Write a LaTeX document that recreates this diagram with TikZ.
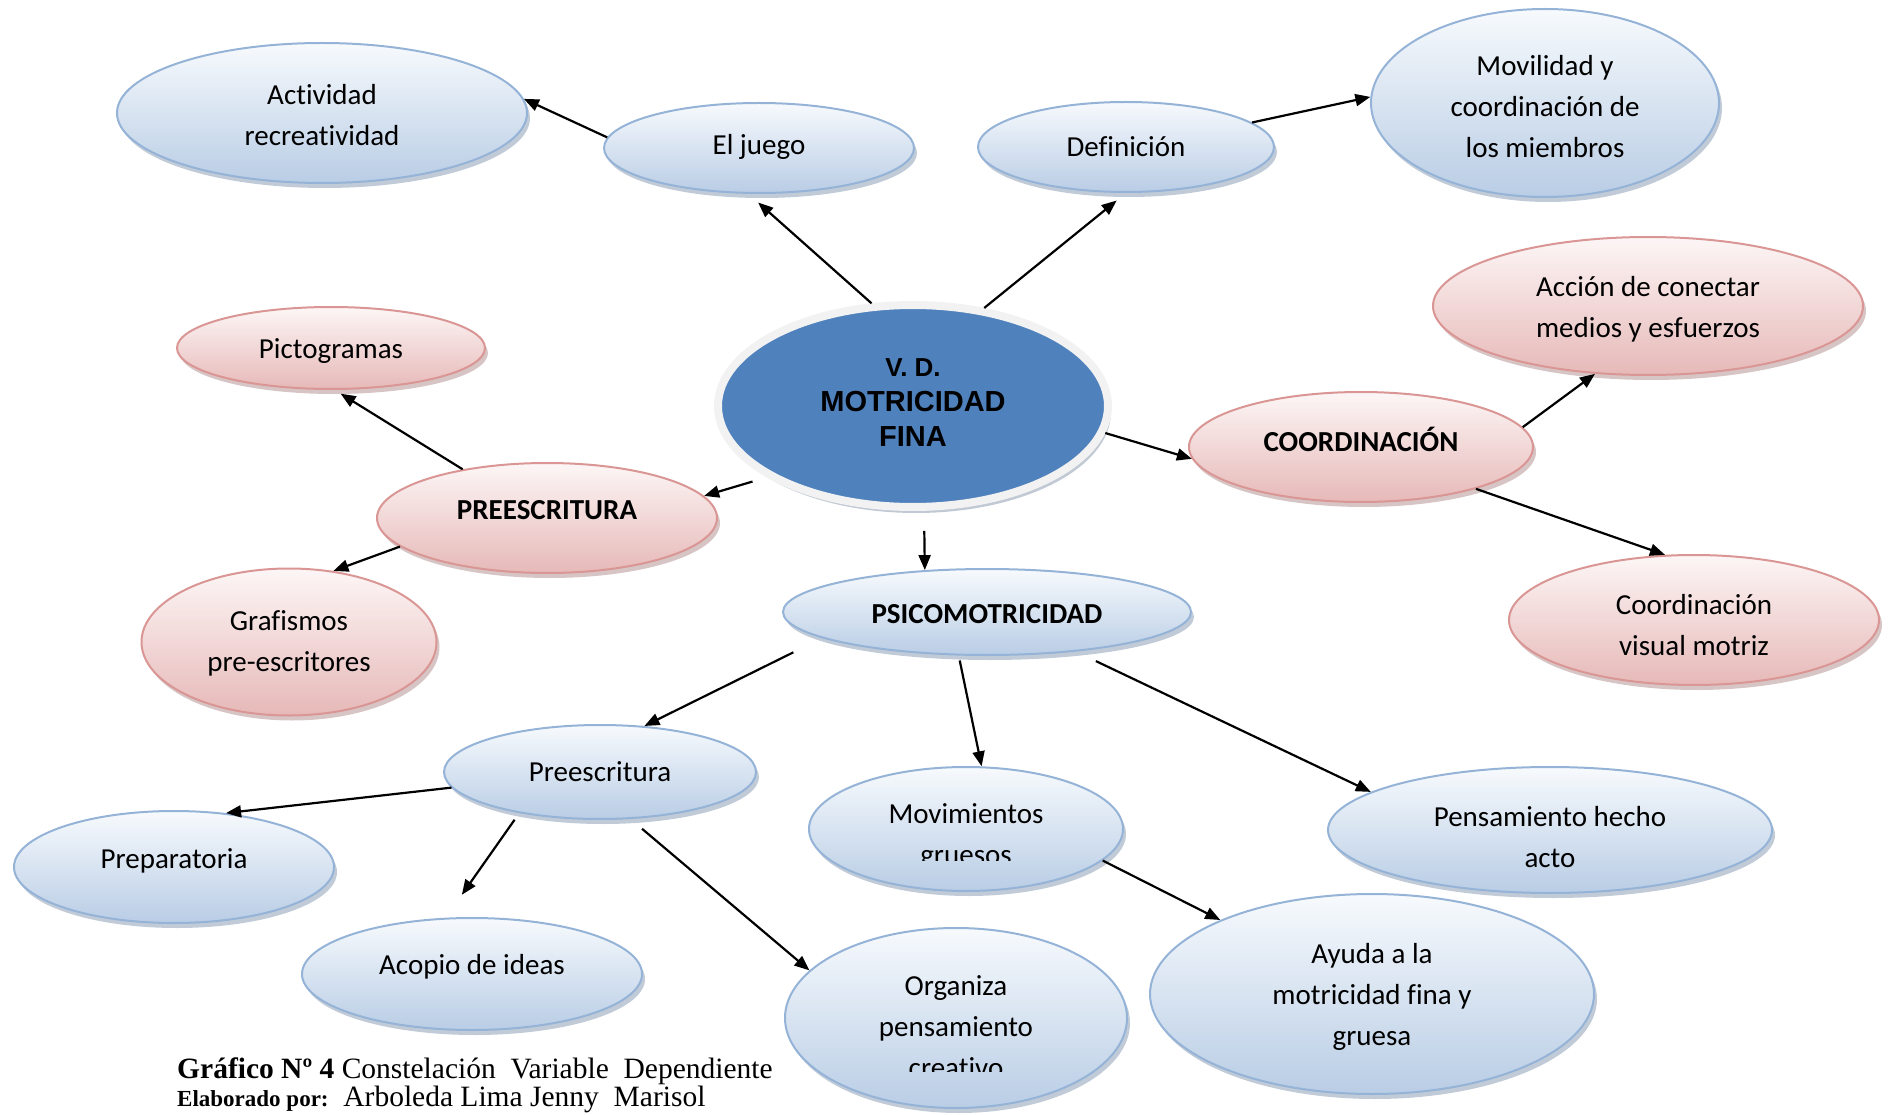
\documentclass[tikz,border=0pt]{standalone}
\usepackage{fontspec}
\setmainfont{Carlito}[Ligatures=NoCommon]
\newfontfamily\arialfont{Liberation Sans}
\newfontfamily\capserif{Liberation Serif}
\usetikzlibrary{shapes.geometric,shadows,arrows.meta}
\definecolor{bluetop}{HTML}{F7FAFD}
\definecolor{bluebot}{HTML}{B9CDE5}
\definecolor{blueline}{HTML}{95B3D7}
\definecolor{blueshadow}{HTML}{8497B0}
\definecolor{pinktop}{HTML}{FDF6F6}
\definecolor{pinkbot}{HTML}{E6B9B8}
\definecolor{pinkline}{HTML}{D99694}
\definecolor{pinkshadow}{HTML}{B08C8C}
\definecolor{cenfill}{HTML}{4F81BD}
\definecolor{cenline}{HTML}{F2F2F2}
\definecolor{censhadow}{HTML}{8393AB}
\begin{document}
\begin{tikzpicture}[x=1pt,y=-1pt,
  ell/.style={ellipse, inner sep=0pt, line width=2pt},
  bluee/.style={ell, draw=blueline, top color=bluetop, bottom color=bluebot,
    drop shadow={shadow xshift=3pt, shadow yshift=-5pt, fill=blueshadow}},
  pinke/.style={ell, draw=pinkline, top color=pinktop, bottom color=pinkbot,
    drop shadow={shadow xshift=3pt, shadow yshift=-5pt, fill=pinkshadow}},
  txt/.style={font=\fontsize{29}{41}\selectfont, align=center, inner sep=0pt},
  btxt/.style={font=\fontsize{29}{41}\selectfont\bfseries, align=center, inner sep=0pt},
  arr/.style={-{Triangle[length=15pt,width=12pt]}, line width=2.2pt},
]
\useasboundingbox (0,0) rectangle (1899,1115);

% central node
\node[ell, line width=8pt, draw=cenline, fill=cenfill, minimum width=390pt, minimum height=202pt,
  drop shadow={shadow xshift=3pt, shadow yshift=-6pt, fill=censhadow}] (cen) at (913,406) {};
\node[font=\arialfont\bfseries\fontsize{29}{35}\selectfont, align=center, inner sep=0pt] (centxt) at (913,403)
  {{\fontsize{26}{35}\selectfont V. D.}\\MOTRICIDAD\\FINA};

% blue nodes
\node[bluee, minimum width=410pt, minimum height=140pt] (act) at (322,113) {};
\node[bluee, minimum width=310pt, minimum height=90pt] (jue) at (759,148) {};
\node[bluee, minimum width=296pt, minimum height=90pt] (def) at (1126,147) {};
\node[bluee, minimum width=348pt, minimum height=188pt] (mov) at (1545,103) {};
\node[bluee, minimum width=408pt, minimum height=86pt] (psy) at (987,612) {};
\node[bluee, minimum width=312pt, minimum height=94pt] (pres) at (600,772) {};
\node[bluee, minimum width=320pt, minimum height=112pt] (prep) at (174,867) {};
\node[bluee, minimum width=340pt, minimum height=112pt] (aco) at (472,974) {};
\node[bluee, minimum width=342pt, minimum height=180pt] (org) at (956,1018) {};
\node[bluee, minimum width=314pt, minimum height=124pt] (mvg) at (966,829) {};
\node[bluee, minimum width=444pt, minimum height=126pt] (pha) at (1550,830) {};
\node[bluee, minimum width=444pt, minimum height=200pt] (ayu) at (1372,994) {};

% pink nodes
\node[pinke, minimum width=308pt, minimum height=82pt] (pic) at (331,348) {};
\node[pinke, minimum width=340pt, minimum height=110pt] (pre) at (547,518) {};
\node[pinke, minimum width=295pt, minimum height=147pt] (gra) at (289,642) {};
\node[pinke, minimum width=344pt, minimum height=110pt] (coo) at (1361,447) {};
\node[pinke, minimum width=430pt, minimum height=138pt] (acc) at (1648,306) {};
\node[pinke, minimum width=370pt, minimum height=130pt] (cvm) at (1694,620) {};

% texts
\node[txt] (acttxt) at (322,115) {Actividad\\recreatividad};
\node[txt] (juetxt) at (759,147) {El juego};
\node[txt] (deftxt) at (1126,147) {Definición};
\node[txt] (movtxt) at (1545,107) {Movilidad y\\coordinación de\\los miembros};
\node[txt] (pictxt) at (331,351) {Pictogramas};
\node[btxt] (pretxt) at (547,510) {PREESCRITURA};
\node[txt] (gratxt) at (289,643) {Grafismos\\pre-escritores};
\node[btxt] (cootxt) at (1361,439) {COORDINACIÓN};
\node[txt] (acctxt) at (1648,309) {Acción de conectar\\medios y esfuerzos};
\node[txt] (cvmtxt) at (1694,625) {Coordinación\\visual motriz};
\node[btxt] (psytxt) at (987,614) {PSICOMOTRICIDAD};
\node[txt] (prestxt) at (600,772) {Preescritura};
\node[txt] (preptxt) at (174,861) {Preparatoria};
\node[txt] (acotxt) at (472,967) {Acopio de ideas};
\node[txt] (phatxt) at (1550,837) {Pensamiento hecho\\acto};
\node[txt] (ayutxt) at (1372,997) {Ayuda a la\\motricidad fina y\\gruesa};
\begin{scope}
  \clip (700,700) rectangle (1250,860);
  \node[txt] (mvgtxt) at (966,837) {Movimientos\\gruesos};
\end{scope}
\begin{scope}
  \clip (700,900) rectangle (1250,1071);
  \node[txt] (orgtxt) at (956,1027) {Organiza\\pensamiento\\creativo};
\end{scope}

% connectors
\draw[arr, shorten >=13pt] (cen.112) -- (jue.257);
\draw[arr, shorten >=12pt] (cen.54) -- (def.270);
\draw[arr] (jue.176) -- (act.4);
\draw[arr] (def.11) -- (mov.178);
\draw[arr] (cen.352) -- (coo.184);
\draw[arr] (coo.7) -- (acc.232);
\draw[arr] (coo.340) -- (cvm.114);
\draw[arr, shorten <=15pt] (cen.206) -- (pre.8);
\draw[arr, shorten >=7pt] (pre.150) -- (pic.275);
\draw[arr] (pre.191) -- (gra.58);
\draw[arr, shorten <=20pt] (cen.276) -- (psy.146);
\draw[arr, shorten <=32pt] (psy.189) -- (pres.46);
\draw[arr, shorten <=5pt] (psy.237) -- (mvg.76);
\draw[arr, shorten <=22pt] (psy.336) -- (pha.168);
\draw[arr] (pres.186) -- (prep.46);
\draw[arr, shorten <=8pt, shorten >=28pt] (pres.207) -- (aco.115);
\draw[arr, shorten <=15pt] (pres.303) -- (org.162);
\draw[arr] (mvg.347) -- (ayu.154);

% caption
\node[anchor=base west, inner sep=0pt, font=\capserif\fontsize{29.5}{34}\selectfont] (cap1) at (177,1078)
  {\textbf{Gráfico Nº 4} Constelación\ \ Variable\ \ Dependiente};
\node[anchor=base west, inner sep=0pt, font=\capserif\fontsize{29.5}{34}\selectfont] (cap2) at (177,1106)
  {{\fontsize{23}{28}\selectfont\bfseries Elaborado por:}\ \ Arboleda Lima Jenny\ \ Marisol};
\end{tikzpicture}
\end{document}
